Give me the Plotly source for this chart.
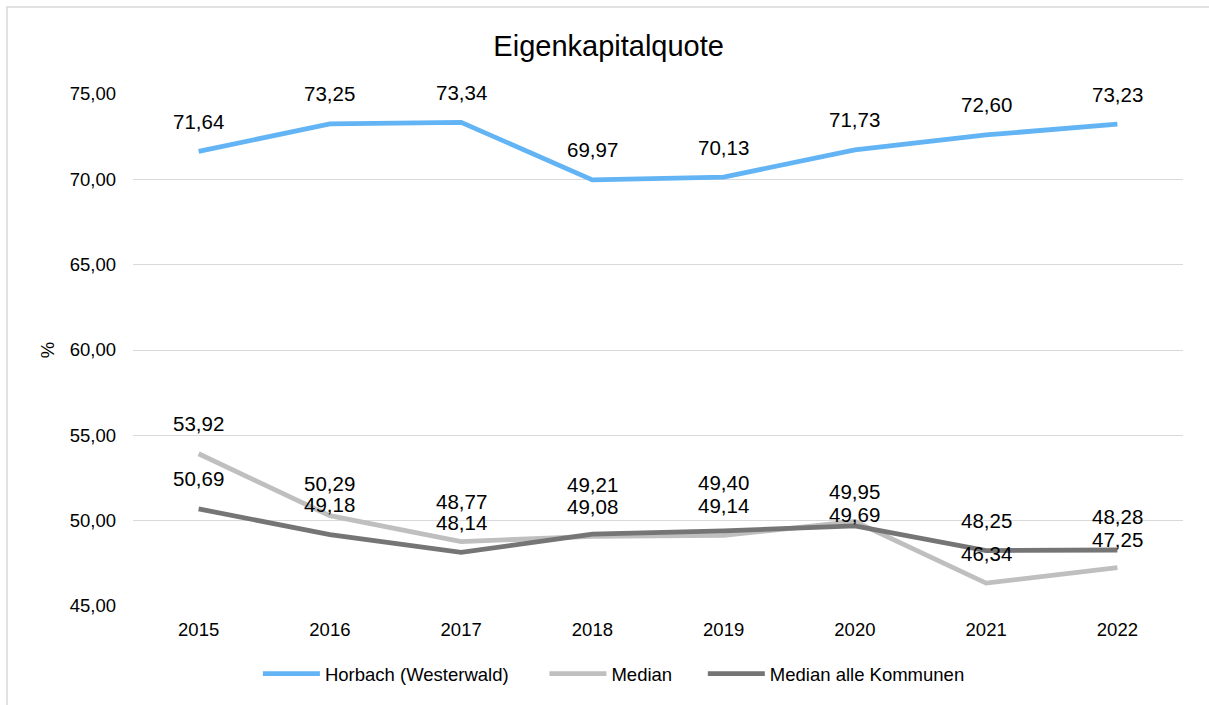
import plotly.graph_objects as go

# ---------------- data ----------------
years = ["2015", "2016", "2017", "2018", "2019", "2020", "2021", "2022"]
horbach = [71.64, 73.25, 73.34, 69.97, 70.13, 71.73, 72.60, 73.23]
median = [53.92, 50.29, 48.77, 49.08, 49.14, 49.95, 46.34, 47.25]
median_alle = [50.69, 49.18, 48.14, 49.21, 49.40, 49.69, 48.25, 48.28]
y_ticks = [45, 50, 55, 60, 65, 70, 75]

series_names = ["Horbach (Westerwald)", "Median", "Median alle Kommunen"]
series_values = [horbach, median, median_alle]

# ---------------- styles ----------------
colors = ["#63B4F4", "#BFBFBF", "#757575"]
FONT = "Liberation Sans, Arial, sans-serif"
LABEL_OFFSET = 30  # px above point
# manual label nudges (pixels), like hand-moved data labels
label_nudge = {
    ("Median", "2016"): 2,
    ("Median", "2017"): 10,
    ("Median alle Kommunen", "2018"): 20,
    ("Median alle Kommunen", "2019"): 18,
    ("Median alle Kommunen", "2020"): -19,
    ("Median alle Kommunen", "2022"): 4,
    ("Median", "2022"): -2,
}
LEGEND_PAD = ["\u00a0" * 6, "\u00a0" * 5, ""]

def de(v):
    return f"{v:.2f}".replace(".", ",")

fig = go.Figure()
for i, (name, vals, col) in enumerate(zip(series_names, series_values, colors)):
    fig.add_trace(go.Scatter(
        x=years, y=vals,
        name=name + LEGEND_PAD[i],
        mode="lines",
        line=dict(color=col, width=4.8),
        hoverinfo="skip",
    ))

annotations = []
for name, vals in zip(series_names, series_values):
    for idx, (yr, v) in enumerate(zip(years, vals)):
        annotations.append(dict(
            x=idx, y=v, xref="x", yref="y", text=de(v), showarrow=False,
            yshift=LABEL_OFFSET + label_nudge.get((name, yr), 0),
            yanchor="middle", xanchor="center",
            font=dict(family=FONT, size=20.5, color="#000000"),
        ))

fig.update_layout(
    width=1209, height=705,
    margin=dict(l=133, r=26, t=94, b=99),
    paper_bgcolor="white", plot_bgcolor="white",
    font=dict(family=FONT, size=18.5, color="#000000"),
    title=dict(text="Eigenkapitalquote", x=0.453, xref="paper", xanchor="center",
               y=1 - 46 / 705, yref="container", yanchor="middle",
               font=dict(family=FONT, size=29, color="#000000")),
    showlegend=True,
    legend=dict(orientation="h", x=0.458, xanchor="center", xref="paper",
                y=1 - 674 / 705, yref="container", yanchor="middle",
                itemwidth=57, font=dict(family=FONT, size=18.5, color="#000000"),
                traceorder="normal", tracegroupgap=0),
    annotations=annotations,
    shapes=[dict(type="rect", xref="paper", yref="paper",
                 x0=(7 - 133) / 1050, x1=1.2, y0=-0.5, y1=(606 - 7) / 512,
                 line=dict(color="#D9D9D9", width=1.5), fillcolor="rgba(0,0,0,0)",
                 layer="below")],
)

fig.update_xaxes(
    type="category", range=[-0.5, len(years) - 0.5],
    showgrid=False, showline=False, zeroline=False,
    ticks="", ticklabelstandoff=10,
    tickfont=dict(family=FONT, size=18.5, color="#000000"),
)
fig.update_yaxes(
    range=[45, 75], tickvals=y_ticks, ticktext=[de(t) for t in y_ticks],
    showgrid=True, gridcolor="#D9D9D9", gridwidth=1.3,
    showline=False, zeroline=False, ticks="", ticklabelstandoff=16,
    tickfont=dict(family=FONT, size=18.5, color="#000000"),
    title=dict(text="%", standoff=10, font=dict(family=FONT, size=18.5, color="#000000")),
)

fig.write_html("out.html",
               config={"displayModeBar": False},
               post_script="document.body.style.margin='0';document.body.style.overflow='hidden';")
